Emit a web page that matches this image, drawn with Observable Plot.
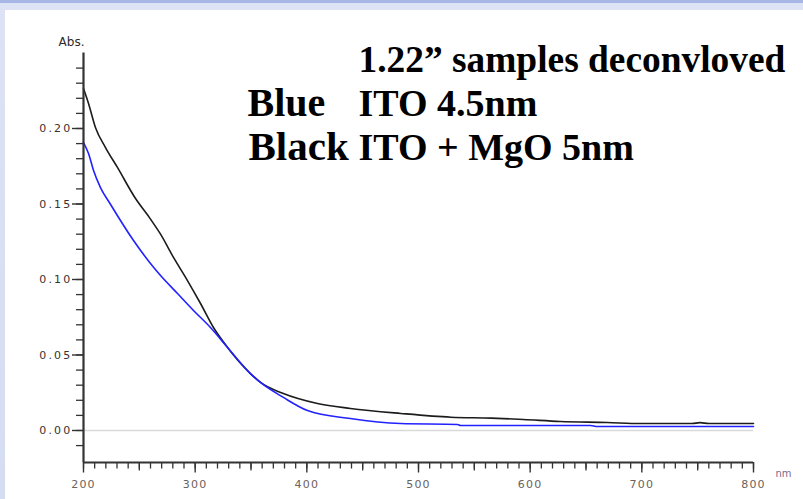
<!DOCTYPE html>
<html><head><meta charset="utf-8">
<script src="https://cdn.jsdelivr.net/npm/d3@7"></script>
<script src="https://cdn.jsdelivr.net/npm/@observablehq/plot@0.6"></script>
<style>
html,body{margin:0;padding:0;}
body{width:803px;height:499px;overflow:hidden;position:relative;
  background:linear-gradient(180deg,#a7b6e6 0px,#a7b6e6 3px,#dde2f4 3px,#d5ddf2 100%);}
#chart{position:absolute;left:5px;top:10px;width:798px;height:489px;background:#fff;}
</style></head><body><div id="chart"></div>
<script>
// Black series: ITO + MgO 5nm
const blackNm  = [200, 204.5, 210.7, 219.7, 230.4, 246.6, 260, 269, 280.6, 293.1, 304.8, 316.4, 329, 349.5, 358.5, 379, 409.5, 439, 484, 529, 565, 594, 627, 669, 699, 745, 752, 760, 800];
const blackAbs = [0.2265, 0.2166, 0.2007, 0.1874, 0.1742, 0.1536, 0.1400, 0.1300, 0.1146, 0.0993, 0.0841, 0.0682, 0.0550, 0.0377, 0.0318, 0.0245, 0.0179, 0.0146, 0.0113, 0.0088, 0.0082, 0.0073, 0.0060, 0.0053, 0.0046, 0.0046, 0.0052, 0.0046, 0.0046];
// Blue series: ITO 4.5nm
const blueNm  = [200, 204.5, 209, 215.2, 224, 244.8, 260, 269, 284.2, 298.5, 313.7, 329, 349.5, 358.5, 379, 400.6, 439, 484, 535, 537.6, 654, 660, 800];
const blueAbs = [0.1907, 0.1834, 0.1722, 0.1609, 0.1500, 0.1258, 0.1106, 0.1026, 0.0907, 0.0795, 0.0682, 0.0550, 0.0377, 0.0318, 0.0219, 0.0132, 0.0079, 0.0046, 0.0040, 0.0033, 0.0033, 0.0026, 0.0026];

const xMajor = [200, 300, 400, 500, 600, 700, 800];
const xMid   = [250, 350, 450, 550, 650, 750];
const xMinor = d3.range(200, 801, 10);
const yMajor = [0, 0.05, 0.10, 0.15, 0.20];
const yMinor = d3.range(-1, 25).map(d => d / 100);
const yLabelText = ["0.00", "0.05", "0.10", "0.15", "0.20"];

const titleLine = ["1.22\u201D samples deconvloved"];
const seriesNames = ["Blue", "Black"];
const seriesDesc = ["ITO 4.5nm", "ITO + MgO 5nm"];
const yAxisName = ["Abs."];
const xAxisName = ["nm"];

const blackRows = blackNm.map((x, i) => ({nm: x, abs: blackAbs[i]}));
const blueRows = blueNm.map((x, i) => ({nm: x, abs: blueAbs[i]}));

const yMin = -0.0212, yMax = 0.25;
const serif = "'Liberation Serif', 'Times New Roman', serif";
const axisCol = "#333";

const plot = Plot.plot({
  width: 798, height: 489,
  marginLeft: 78, marginRight: 50, marginTop: 42.5, marginBottom: 37,
  style: {background: "transparent", fontFamily: "'DejaVu Sans', sans-serif"},
  x: {domain: [200, 800], axis: null},
  y: {domain: [yMin, yMax], axis: null},
  marks: [
    Plot.ruleY([0], {x1: 200, x2: 800, stroke: "#d9d9d9", strokeWidth: 1.3}),
    Plot.line(blackRows, {x: "nm", y: "abs", stroke: "#1c1c1c", strokeWidth: 1.6, curve: "monotone-x"}),
    Plot.line(blueRows, {x: "nm", y: "abs", stroke: "#2222ff", strokeWidth: 1.6, curve: "monotone-x"}),
    // x-axis ticks (hanging below the axis line)
    Plot.ruleX(xMinor, {x: d => d, y1: yMin, y2: yMin, insetBottom: -6.5, stroke: axisCol, strokeWidth: 1.3}),
    Plot.ruleX(xMid, {x: d => d, y1: yMin, y2: yMin, insetBottom: -8.5, stroke: axisCol, strokeWidth: 1.3}),
    Plot.ruleX(xMajor, {x: d => d, y1: yMin, y2: yMin, insetBottom: -10.5, stroke: axisCol, strokeWidth: 1.4}),
    Plot.text(xMajor, {x: d => d, y: yMin, text: d => String(d), dy: 22, fontSize: 11, fill: "#6a625c", lineAnchor: "middle"}),
    // y-axis ticks (to the left of the axis line)
    Plot.ruleY(yMinor, {y: d => d, x1: 200, x2: 200, insetLeft: -7, stroke: axisCol, strokeWidth: 1.3}),
    Plot.ruleY(yMajor, {y: d => d, x1: 200, x2: 200, insetLeft: -11, stroke: axisCol, strokeWidth: 1.4}),
    Plot.text(yMajor, {x: 200, y: d => d, text: (d, i) => yLabelText[i], dx: -11, textAnchor: "end", lineAnchor: "middle", fontSize: 11, fill: "#3a3230"}),
    Plot.ruleX([200], {y1: yMin, y2: yMax, stroke: axisCol, strokeWidth: 2.2}),
    Plot.ruleY([yMin], {x1: 200, x2: 800, stroke: axisCol, strokeWidth: 2.2}),
    // axis names
    Plot.text(yAxisName, {text: d => d, frameAnchor: "top-left", dx: 1, dy: -10.5, textAnchor: "end", lineAnchor: "middle", fontSize: 12, fill: "#2e2a2a"}),
    Plot.text(xAxisName, {text: d => d, frameAnchor: "bottom-right", dx: 22, dy: 11, textAnchor: "start", lineAnchor: "middle", fontSize: 10, fill: "#7a6a8c"}),
    // annotations
    Plot.text(titleLine, {text: d => d, frameAnchor: "top-left", dx: 275, dy: 18.5, textAnchor: "start", lineAnchor: "bottom", fontFamily: serif, fontWeight: "bold", fontSize: 37.4, fill: "#000"}),
    Plot.text(seriesNames, {text: d => d, frameAnchor: "top-left", dx: 164, dy: 62.5, textAnchor: "start", lineAnchor: "bottom", fontFamily: serif, fontWeight: "bold", fontSize: 40, fill: "#000", filter: (d, i) => i === 0}),
    Plot.text(seriesNames, {text: d => d, frameAnchor: "top-left", dx: 165, dy: 106.5, textAnchor: "start", lineAnchor: "bottom", fontFamily: serif, fontWeight: "bold", fontSize: 41, fill: "#000", filter: (d, i) => i === 1}),
    Plot.text(seriesDesc, {text: d => d, frameAnchor: "top-left", dx: 275, dy: 62.5, textAnchor: "start", lineAnchor: "bottom", fontFamily: serif, fontWeight: "bold", fontSize: 38, fill: "#000", filter: (d, i) => i === 0}),
    Plot.text(seriesDesc, {text: d => d, frameAnchor: "top-left", dx: 275, dy: 106.5, textAnchor: "start", lineAnchor: "bottom", fontFamily: serif, fontWeight: "bold", fontSize: 38, fill: "#000", filter: (d, i) => i === 1})
  ]
});
document.getElementById("chart").appendChild(plot);
// wide spacing of the instrument-style tick labels
d3.select(plot).selectAll("text").filter(function() {
  return /^0\.\d\d$/.test(this.textContent);
}).style("letter-spacing", "2.2px");
d3.select(plot).selectAll("text").filter(function() {
  return /^[2-8]00$/.test(this.textContent);
}).style("letter-spacing", "1.2px");
</script></body></html>
